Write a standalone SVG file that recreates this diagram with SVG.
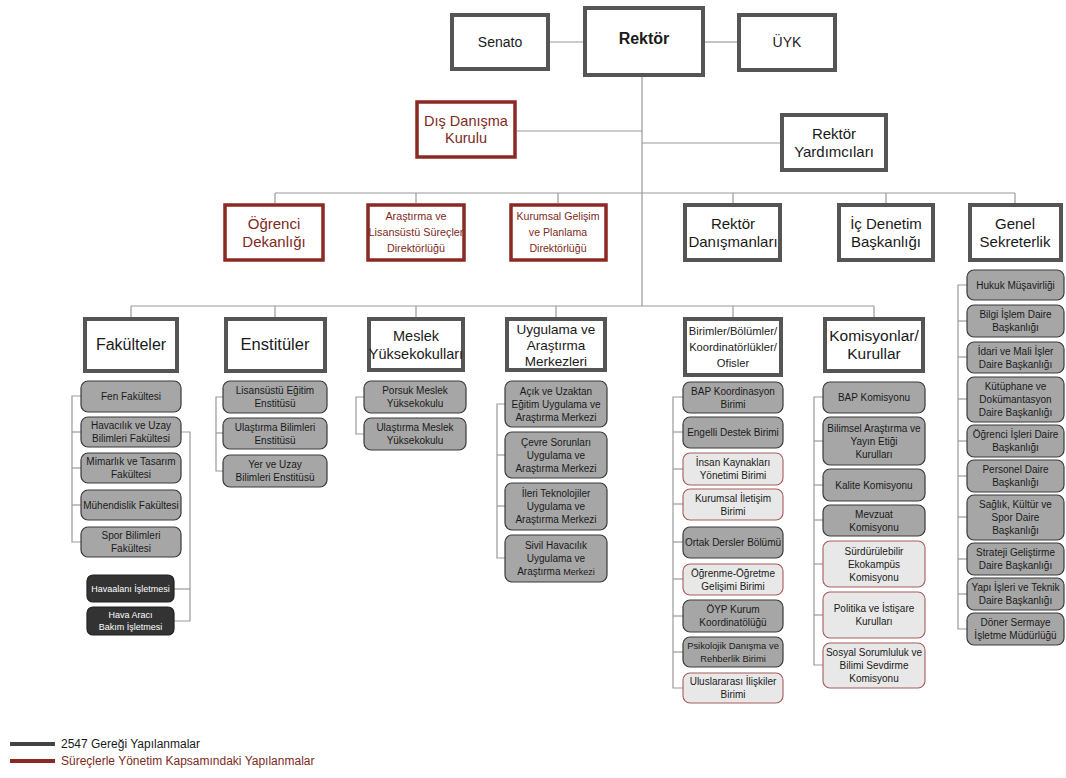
<svg xmlns="http://www.w3.org/2000/svg" width="1066" height="778" viewBox="0 0 1066 778">
<style>
text{font-family:"Liberation Sans",Arial,sans-serif;text-anchor:middle;fill:#1a1a1a}
.bk{fill:#fff;stroke:#555;stroke-width:4}
.rd{fill:#fff;stroke:#8b2a22;stroke-width:3.5}
.g{fill:#a6a6a6;stroke:#3a3a3a;stroke-width:1.2}
.l{fill:#e8e8e8;stroke:#a85a5a;stroke-width:1.1}
.d{fill:#333;stroke:#222;stroke-width:1.2}
.rt{fill:#7e2a22}
.wt{fill:#fff;font-size:9px}
.s{font-size:10px}
.s9{font-size:9.4px}
#connectors line,#connectors polyline{stroke:#999;stroke-width:1.2;fill:none}
</style>
<rect width="1066" height="778" fill="#fff"/>
<g id="connectors">
<line x1="550" y1="42" x2="583" y2="42"/>
<line x1="705" y1="42" x2="737" y2="42"/>
<line x1="642" y1="77" x2="642" y2="306"/>
<line x1="517" y1="131" x2="642" y2="131"/>
<line x1="642" y1="143" x2="780" y2="143"/>
<line x1="275" y1="193" x2="1015" y2="193"/>
<line x1="275" y1="193" x2="275" y2="203"/>
<line x1="416" y1="193" x2="416" y2="203"/>
<line x1="558" y1="193" x2="558" y2="203"/>
<line x1="733" y1="193" x2="733" y2="203"/>
<line x1="886" y1="193" x2="886" y2="203"/>
<line x1="1015" y1="193" x2="1015" y2="203"/>
<line x1="131" y1="306" x2="874" y2="306"/>
<line x1="131" y1="306" x2="131" y2="317"/>
<line x1="275" y1="306" x2="275" y2="317"/>
<line x1="416" y1="306" x2="416" y2="317"/>
<line x1="556" y1="306" x2="556" y2="317"/>
<line x1="733" y1="306" x2="733" y2="317"/>
<line x1="874" y1="306" x2="874" y2="317"/>
<polyline points="81,396 72,396 72,542 81,542"/>
<line x1="72" y1="432" x2="81" y2="432"/>
<line x1="72" y1="468" x2="81" y2="468"/>
<line x1="72" y1="505" x2="81" y2="505"/>
<polyline points="181,432 190,432 190,621 174,621"/>
<line x1="174" y1="589" x2="190" y2="589"/>
<polyline points="223,397 216,397 216,471 223,471"/>
<line x1="216" y1="433" x2="223" y2="433"/>
<polyline points="364,397 356,397 356,434 364,434"/>
<polyline points="505,404 497,404 497,558 505,558"/>
<line x1="497" y1="455" x2="505" y2="455"/>
<line x1="497" y1="506" x2="505" y2="506"/>
<polyline points="683,397 673,397 673,688 683,688"/>
<line x1="673" y1="432" x2="683" y2="432"/>
<line x1="673" y1="469" x2="683" y2="469"/>
<line x1="673" y1="504" x2="683" y2="504"/>
<line x1="673" y1="542" x2="683" y2="542"/>
<line x1="673" y1="579" x2="683" y2="579"/>
<line x1="673" y1="616" x2="683" y2="616"/>
<line x1="673" y1="652" x2="683" y2="652"/>
<polyline points="823,397 814,397 814,665 823,665"/>
<line x1="814" y1="441" x2="823" y2="441"/>
<line x1="814" y1="485" x2="823" y2="485"/>
<line x1="814" y1="520" x2="823" y2="520"/>
<line x1="814" y1="564" x2="823" y2="564"/>
<line x1="814" y1="615" x2="823" y2="615"/>
<polyline points="967,285 958,285 958,629 967,629"/>
<line x1="958" y1="321" x2="967" y2="321"/>
<line x1="958" y1="357" x2="967" y2="357"/>
<line x1="958" y1="399" x2="967" y2="399"/>
<line x1="958" y1="441" x2="967" y2="441"/>
<line x1="958" y1="476" x2="967" y2="476"/>
<line x1="958" y1="517" x2="967" y2="517"/>
<line x1="958" y1="559" x2="967" y2="559"/>
<line x1="958" y1="594" x2="967" y2="594"/>
</g>

<g id="senato"><rect class="bk" x="452" y="15" width="96" height="54"/><text x="500" y="47" font-size="14">Senato</text></g>
<g id="rektor"><rect class="bk" x="585" y="8" width="118" height="67"/><text x="644" y="44" font-size="16" font-weight="bold">Rektör</text></g>
<g id="uyk"><rect class="bk" x="739" y="15" width="96" height="55"/><text x="787" y="47" font-size="14">ÜYK</text></g>
<g id="dis-danisma"><rect class="rd" x="417" y="102" width="98" height="55"/><text class="rt" font-size="14.5"><tspan x="466" y="126">Dış Danışma</tspan><tspan x="466" y="143">Kurulu</tspan></text></g>
<g id="rektor-yardimcilari"><rect class="bk" x="782" y="115" width="104" height="55"/><text font-size="15"><tspan x="834" y="139">Rektör</tspan><tspan x="834" y="157">Yardımcıları</tspan></text></g>

<g id="ogrenci-dekanligi"><rect class="rd" x="225" y="205" width="98" height="55"/><text class="rt" font-size="15"><tspan x="274" y="229">Öğrenci</tspan><tspan x="274" y="247">Dekanlığı</tspan></text></g>
<g id="arastirma"><rect class="rd" x="368" y="205" width="96" height="55"/><text class="rt" font-size="10.8"><tspan x="416" y="220">Araştırma ve</tspan><tspan x="416" y="236">Lisansüstü Süreçler</tspan><tspan x="416" y="252">Direktörlüğü</tspan></text></g>
<g id="kurumsal-gelisim"><rect class="rd" x="511" y="205" width="95" height="55"/><text class="rt" font-size="10.6"><tspan x="558" y="220">Kurumsal Gelişim</tspan><tspan x="558" y="236">ve  Planlama</tspan><tspan x="558" y="252">Direktörlüğü</tspan></text></g>
<g id="rektor-danismanlari"><rect class="bk" x="685" y="205" width="95" height="55"/><text font-size="15"><tspan x="733" y="229">Rektör</tspan><tspan x="733" y="247">Danışmanları</tspan></text></g>
<g id="ic-denetim"><rect class="bk" x="839" y="205" width="94" height="55"/><text font-size="15"><tspan x="886" y="229">İç Denetim</tspan><tspan x="886" y="247">Başkanlığı</tspan></text></g>
<g id="genel-sekreterlik"><rect class="bk" x="970" y="205" width="91" height="55"/><text font-size="15"><tspan x="1015" y="229">Genel</tspan><tspan x="1015" y="247">Sekreterlik</tspan></text></g>

<g id="fakulteler"><rect class="bk" x="85" y="319" width="92" height="52"/><text x="131" y="350" font-size="16">Fakülteler</text></g>
<g id="enstituler"><rect class="bk" x="226" y="319" width="99" height="52"/><text x="275" y="350" font-size="16.5">Enstitüler</text></g>
<g id="meslek"><rect class="bk" x="369" y="319" width="94" height="51"/><text font-size="14.5"><tspan x="416" y="341">Meslek</tspan><tspan x="416" y="359">Yüksekokulları</tspan></text></g>
<g id="uygulama"><rect class="bk" x="507" y="319" width="98" height="51"/><text font-size="13.5"><tspan x="556" y="334">Uygulama ve</tspan><tspan x="556" y="350">Araştırma</tspan><tspan x="556" y="366">Merkezleri</tspan></text></g>
<g id="birimler"><rect class="bk" x="685" y="319" width="96" height="56"/><text font-size="11.2"><tspan x="733" y="335">Birimler/Bölümler/</tspan><tspan x="733" y="351">Koordinatörlükler/</tspan><tspan x="733" y="367">Ofisler</tspan></text></g>
<g id="komisyonlar"><rect class="bk" x="825" y="319" width="98" height="52"/><text font-size="15.5"><tspan x="874" y="341">Komisyonlar/</tspan><tspan x="874" y="359">Kurullar</tspan></text></g>

<g id="fen"><rect class="g" x="81" y="381" width="100" height="31" rx="7"/><text class="s" x="131" y="400">Fen Fakültesi</text></g>
<g id="havacilik"><rect class="g" x="81" y="417" width="100" height="30" rx="7"/><text class="s"><tspan x="131" y="429">Havacılık ve Uzay</tspan><tspan x="131" y="442">Bilimleri Fakültesi</tspan></text></g>
<g id="mimarlik"><rect class="g" x="81" y="453" width="100" height="30" rx="7"/><text class="s"><tspan x="131" y="465">Mimarlık ve Tasarım</tspan><tspan x="131" y="478">Fakültesi</tspan></text></g>
<g id="muhendislik"><rect class="g" x="81" y="490" width="100" height="30" rx="7"/><text class="s" font-size="9.6" x="131" y="508.5">Mühendislik Fakültesi</text></g>
<g id="spor"><rect class="g" x="81" y="527" width="100" height="30" rx="7"/><text class="s"><tspan x="131" y="539">Spor Bilimleri</tspan><tspan x="131" y="552">Fakültesi</tspan></text></g>
<g id="havaalani"><rect class="d" x="87" y="575" width="87" height="27" rx="6"/><text class="wt" x="130.5" y="592">Havaalanı İşletmesi</text></g>
<g id="hava-araci"><rect class="d" x="87" y="607" width="87" height="28" rx="6"/><text class="wt"><tspan x="130.5" y="618">Hava Aracı</tspan><tspan x="130.5" y="630">Bakım İşletmesi</tspan></text></g>

<g id="lisansustu"><rect class="g" x="223" y="381" width="104" height="32" rx="7"/><text class="s"><tspan x="275" y="394">Lisansüstü Eğitim</tspan><tspan x="275" y="407">Enstitüsü</tspan></text></g>
<g id="ulastirma-bil"><rect class="g" x="223" y="418" width="104" height="31" rx="7"/><text class="s"><tspan x="275" y="430.5">Ulaştırma Bilimleri</tspan><tspan x="275" y="443.5">Enstitüsü</tspan></text></g>
<g id="yer-uzay"><rect class="g" x="223" y="455" width="104" height="32" rx="7"/><text class="s"><tspan x="275" y="468">Yer ve Uzay</tspan><tspan x="275" y="481">Bilimleri Enstitüsü</tspan></text></g>

<g id="porsuk"><rect class="g" x="364" y="381" width="102" height="32" rx="7"/><text class="s"><tspan x="415" y="394">Porsuk Meslek</tspan><tspan x="415" y="407">Yüksekokulu</tspan></text></g>
<g id="ulastirma-myo"><rect class="g" x="364" y="418" width="102" height="32" rx="7"/><text class="s"><tspan x="415" y="431">Ulaştırma Meslek</tspan><tspan x="415" y="444">Yüksekokulu</tspan></text></g>

<g id="acik-uzaktan"><rect class="g" x="505" y="381" width="102" height="46" rx="7"/><text class="s"><tspan x="556" y="394.5">Açık ve Uzaktan</tspan><tspan x="556" y="407.5">Eğitim Uygulama ve</tspan><tspan x="556" y="420.5">Araştırma Merkezi</tspan></text></g>
<g id="cevre"><rect class="g" x="505" y="432" width="102" height="46" rx="7"/><text class="s"><tspan x="556" y="445.5">Çevre Sorunları</tspan><tspan x="556" y="458.5">Uygulama ve</tspan><tspan x="556" y="471.5">Araştırma Merkezi</tspan></text></g>
<g id="ileri-tek"><rect class="g" x="505" y="483" width="102" height="47" rx="7"/><text class="s"><tspan x="556" y="497">İleri Teknolojiler</tspan><tspan x="556" y="510">Uygulama ve</tspan><tspan x="556" y="523">Araştırma Merkezi</tspan></text></g>
<g id="sivil"><rect class="g" x="505" y="535" width="102" height="47" rx="7"/><text class="s"><tspan x="556" y="549">Sivil Havacılık</tspan><tspan x="556" y="562">Uygulama ve</tspan><tspan x="556" y="575">Araştırma <tspan font-size="9">Merkezi</tspan></tspan></text></g>

<g id="bap-koord"><rect class="g" x="683" y="382" width="100" height="31" rx="7"/><text class="s"><tspan x="733" y="394.5">BAP Koordinasyon</tspan><tspan x="733" y="407.5">Birimi</tspan></text></g>
<g id="engelli"><rect class="g" x="683" y="417" width="100" height="31" rx="7"/><text class="s" x="733" y="436">Engelli Destek Birimi</text></g>
<g id="insan-kaynaklari"><rect class="l" x="683" y="453" width="100" height="32" rx="7"/><text class="s"><tspan x="733" y="466">İnsan Kaynakları</tspan><tspan x="733" y="479">Yönetimi Birimi</tspan></text></g>
<g id="kurumsal-iletisim"><rect class="l" x="683" y="489" width="100" height="31" rx="7"/><text class="s"><tspan x="733" y="501.5">Kurumsal İletişim</tspan><tspan x="733" y="514.5">Birimi</tspan></text></g>
<g id="ortak-dersler"><rect class="g" x="683" y="527" width="100" height="31" rx="7"/><text class="s" font-size="9.6" x="733" y="546">Ortak Dersler Bölümü</text></g>
<g id="ogrenme"><rect class="l" x="683" y="564" width="100" height="31" rx="7"/><text class="s"><tspan x="733" y="576.5">Öğrenme-Öğretme</tspan><tspan x="733" y="589.5">Gelişimi Birimi</tspan></text></g>
<g id="oyp"><rect class="g" x="683" y="600" width="100" height="32" rx="7"/><text class="s"><tspan x="733" y="613">ÖYP Kurum</tspan><tspan x="733" y="626">Koordinatölüğü</tspan></text></g>
<g id="psikolojik"><rect class="g" x="683" y="637" width="100" height="30" rx="7"/><text class="s9"><tspan x="733" y="649">Psikolojik Danışma ve</tspan><tspan x="733" y="662">Rehberlik Birimi</tspan></text></g>
<g id="uluslararasi"><rect class="l" x="683" y="673" width="100" height="30" rx="7"/><text class="s"><tspan x="733" y="685">Uluslararası İlişkiler</tspan><tspan x="733" y="698">Birimi</tspan></text></g>

<g id="bap-kom"><rect class="g" x="823" y="382" width="102" height="31" rx="7"/><text class="s" x="874" y="401">BAP Komisyonu</text></g>
<g id="bilimsel"><rect class="g" x="823" y="417" width="102" height="48" rx="7"/><text class="s"><tspan x="874" y="431.5">Bilimsel Araştırma ve</tspan><tspan x="874" y="444.5">Yayın Etiği</tspan><tspan x="874" y="457.5">Kurulları</tspan></text></g>
<g id="kalite"><rect class="g" x="823" y="469" width="102" height="32" rx="7"/><text class="s" x="874" y="488.5">Kalite Komisyonu</text></g>
<g id="mevzuat"><rect class="g" x="823" y="505" width="102" height="31" rx="7"/><text class="s"><tspan x="874" y="517.5">Mevzuat</tspan><tspan x="874" y="530.5">Komisyonu</tspan></text></g>
<g id="surdurulebilir"><rect class="l" x="823" y="541" width="102" height="46" rx="7"/><text class="s"><tspan x="874" y="554.5">Sürdürülebilir</tspan><tspan x="874" y="567.5">Ekokampüs</tspan><tspan x="874" y="580.5">Komisyonu</tspan></text></g>
<g id="politika"><rect class="l" x="823" y="592" width="102" height="46" rx="7"/><text class="s"><tspan x="874" y="612">Politika ve İstişare</tspan><tspan x="874" y="625">Kurulları</tspan></text></g>
<g id="sosyal"><rect class="l" x="823" y="643" width="102" height="45" rx="7"/><text class="s"><tspan x="874" y="656">Sosyal Sorumluluk ve</tspan><tspan x="874" y="669">Bilimi Sevdirme</tspan><tspan x="874" y="682">Komisyonu</tspan></text></g>

<g id="hukuk"><rect class="g" x="967" y="270" width="97" height="30" rx="7"/><text class="s" x="1015.5" y="288.5">Hukuk Müşavirliği</text></g>
<g id="bilgi-islem"><rect class="g" x="967" y="305" width="97" height="32" rx="7"/><text class="s"><tspan x="1015.5" y="318">Bilgi İşlem Daire</tspan><tspan x="1015.5" y="331">Başkanlığı</tspan></text></g>
<g id="idari-mali"><rect class="g" x="967" y="342" width="97" height="31" rx="7"/><text class="s"><tspan x="1015.5" y="354.5">İdari ve Mali İşler</tspan><tspan x="1015.5" y="367.5">Daire Başkanlığı</tspan></text></g>
<g id="kutuphane"><rect class="g" x="967" y="377" width="97" height="45" rx="7"/><text class="s"><tspan x="1015.5" y="390">Kütüphane ve</tspan><tspan x="1015.5" y="403">Dokümantasyon</tspan><tspan x="1015.5" y="416">Daire Başkanlığı</tspan></text></g>
<g id="ogrenci-isleri"><rect class="g" x="967" y="425" width="97" height="32" rx="7"/><text class="s"><tspan x="1015.5" y="438">Öğrenci İşleri Daire</tspan><tspan x="1015.5" y="451">Başkanlığı</tspan></text></g>
<g id="personel"><rect class="g" x="967" y="460" width="97" height="32" rx="7"/><text class="s"><tspan x="1015.5" y="473">Personel Daire</tspan><tspan x="1015.5" y="486">Başkanlığı</tspan></text></g>
<g id="saglik"><rect class="g" x="967" y="495" width="97" height="45" rx="7"/><text class="s"><tspan x="1015.5" y="508">Sağlık, Kültür ve</tspan><tspan x="1015.5" y="521">Spor Daire</tspan><tspan x="1015.5" y="534">Başkanlığı</tspan></text></g>
<g id="strateji"><rect class="g" x="967" y="543" width="97" height="32" rx="7"/><text class="s"><tspan x="1015.5" y="556">Strateji Geliştirme</tspan><tspan x="1015.5" y="569">Daire Başkanlığı</tspan></text></g>
<g id="yapi-isleri"><rect class="g" x="967" y="578" width="97" height="32" rx="7"/><text class="s"><tspan x="1015.5" y="591">Yapı İşleri ve Teknik</tspan><tspan x="1015.5" y="604">Daire Başkanlığı</tspan></text></g>
<g id="doner"><rect class="g" x="967" y="613" width="97" height="32" rx="7"/><text class="s"><tspan x="1015.5" y="626">Döner Sermaye</tspan><tspan x="1015.5" y="639">İşletme Müdürlüğü</tspan></text></g>

<g id="legend">
<line x1="10" y1="744" x2="55" y2="744" stroke="#444" stroke-width="4"/>
<text x="61" y="748" font-size="12" style="text-anchor:start">2547 Gereği Yapılanmalar</text>
<line x1="10" y1="761" x2="55" y2="761" stroke="#8b2a22" stroke-width="4"/>
<text class="rt" x="61" y="765" font-size="12" style="text-anchor:start">Süreçlerle Yönetim Kapsamındaki Yapılanmalar</text>
</g>
</svg>
